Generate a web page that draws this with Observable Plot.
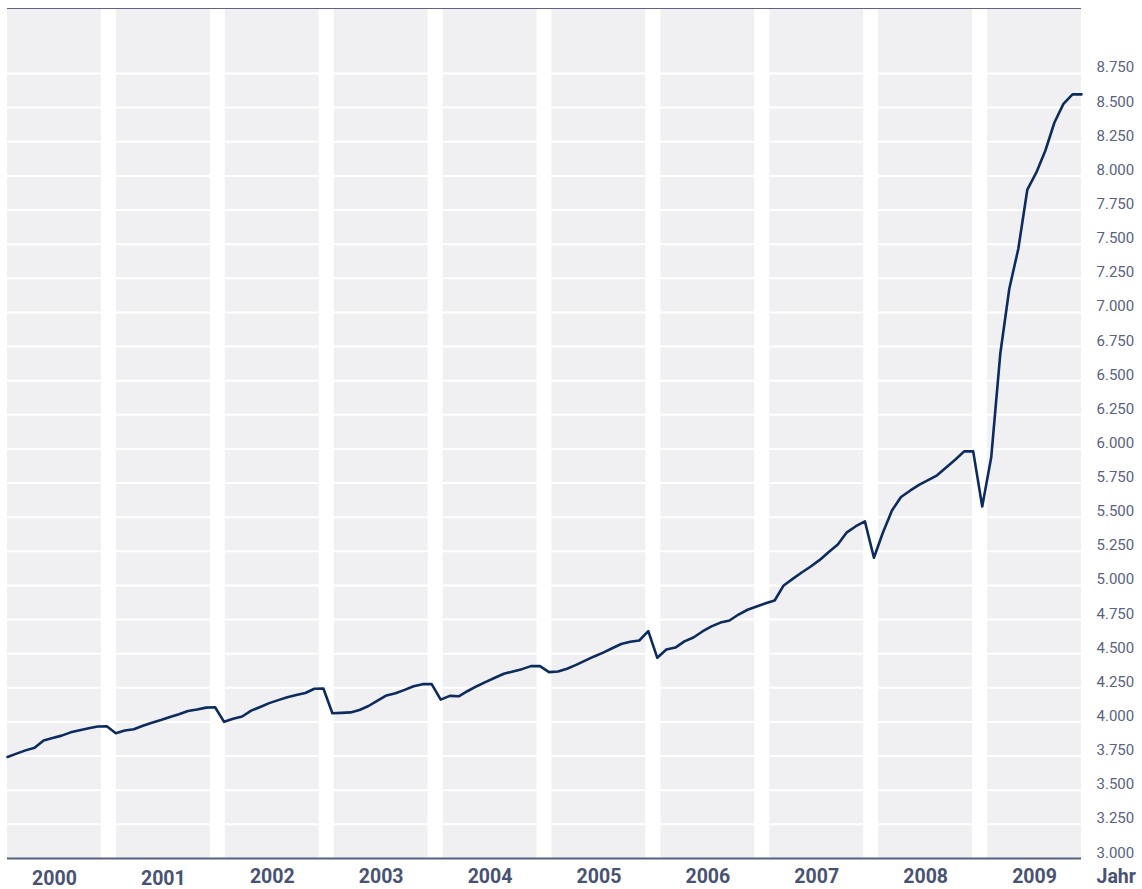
<!DOCTYPE html>
<html>
<head>
<meta charset="utf-8">
<script src="https://cdn.jsdelivr.net/npm/d3@7"></script>
<script src="https://cdn.jsdelivr.net/npm/@observablehq/plot@0.6"></script>
<style>
html, body { margin: 0; padding: 0; background: #ffffff; }
#chart svg { display: block; }
</style>
</head>
<body>
<div id="chart"></div>
<script>
// ---- Data (monthly values) ----
const years = [2000, 2001, 2002, 2003, 2004, 2005, 2006, 2007, 2008, 2009];
const values2000 = [3744, 3768, 3792, 3812, 3865, 3882, 3900, 3924, 3939, 3954, 3967, 3969];
const values2001 = [3917, 3937, 3947, 3972, 3994, 4014, 4036, 4056, 4080, 4091, 4105, 4108];
const values2002 = [4001, 4023, 4040, 4083, 4110, 4138, 4160, 4181, 4197, 4212, 4243, 4245];
const values2003 = [4064, 4067, 4070, 4088, 4117, 4157, 4194, 4210, 4235, 4262, 4277, 4277];
const values2004 = [4164, 4191, 4188, 4227, 4262, 4294, 4324, 4353, 4370, 4387, 4409, 4409];
const values2005 = [4365, 4370, 4390, 4418, 4449, 4480, 4508, 4540, 4571, 4587, 4597, 4665];
const values2006 = [4470, 4531, 4545, 4590, 4619, 4663, 4700, 4728, 4743, 4787, 4822, 4846];
const values2007 = [4869, 4890, 5000, 5048, 5095, 5139, 5187, 5245, 5300, 5389, 5434, 5469];
const values2008 = [5203, 5388, 5549, 5648, 5694, 5736, 5772, 5807, 5864, 5921, 5982, 5982];
const values2009 = [5578, 5940, 6697, 7173, 7466, 7900, 8025, 8186, 8391, 8527, 8597, 8597];
const yTickValues = [3000, 3250, 3500, 3750, 4000, 4250, 4500, 4750, 5000, 5250, 5500, 5750,
                     6000, 6250, 6500, 6750, 7000, 7250, 7500, 7750, 8000, 8250, 8500, 8750];
const axisLabel = "Jahr";

// ---- Derived tables ----
const series = [values2000, values2001, values2002, values2003, values2004,
                values2005, values2006, values2007, values2008, values2009];
const data = series.flatMap((vals, yi) => vals.map((v, m) => ({k: yi * 12 + m, value: v})));
const lastK = data.length - 1;

// year bands: band:gap ratio 94:15 across the whole x extent
const period = 109, bandW = 94;
const unit = lastK / (years.length * period - (period - bandW));
const bands = years.map((year, i) => ({
  year,
  x1: period * i * unit,
  x2: (period * i + bandW) * unit
}));
bands.forEach(b => b.xc = (b.x1 + b.x2) / 2);

const de = d3.formatLocale({decimal: ",", thousands: ".", grouping: [3], currency: ["", " €"]});
const fmt = de.format(",");

const yMin = 3000, yMax = 9226;
const textColor = "#59627f";
const yearColor = "#485274";
const yearFont = "'Liberation Sans Narrow', 'Roboto', sans-serif";

const chart = Plot.plot({
  width: 1142,
  height: 889,
  marginLeft: 7,
  marginRight: 61,
  marginTop: 8,
  marginBottom: 31,
  style: {fontFamily: "Roboto, 'Liberation Sans', sans-serif", background: "#ffffff", overflow: "visible"},
  x: {domain: [0, lastK], axis: null},
  y: {domain: [yMin, yMax], axis: null},
  marks: [
    Plot.rect(bands, {x1: "x1", x2: "x2", y1: yMin, y2: yMax, fill: "#f0f0f3"}),
    Plot.ruleY(yTickValues.filter(d => d > yMin), {stroke: "#ffffff", strokeWidth: 2}),
    Plot.ruleY([yMax], {stroke: "#5a6484", strokeWidth: 1}),
    Plot.ruleY([yMin], {stroke: "#56607e", strokeWidth: 2}),
    Plot.line(data, {x: "k", y: "value", stroke: "#0c2b5e", strokeWidth: 2.6, strokeLinejoin: "round"}),
    Plot.text(yTickValues, {
      x: lastK, y: d => d, text: d => fmt(d), dx: 15, dy: -1,
      textAnchor: "start", lineAnchor: "bottom", fill: textColor, fontSize: 15
    }),
    Plot.text(bands.slice(0, 2), {
      x: "xc", text: d => String(d.year), frameAnchor: "bottom", dy: 26, lineAnchor: "bottom",
      fill: yearColor, fontSize: 19.5, fontWeight: "bold", fontFamily: yearFont
    }),
    Plot.text(bands.slice(2), {
      x: "xc", text: d => String(d.year), frameAnchor: "bottom", dy: 24, lineAnchor: "bottom",
      fill: yearColor, fontSize: 19.5, fontWeight: "bold", fontFamily: yearFont
    }),
    Plot.text([axisLabel], {
      x: lastK, text: d => d, frameAnchor: "bottom", dx: 15, dy: 24, lineAnchor: "bottom",
      textAnchor: "start", fill: yearColor, fontSize: 19.5, fontWeight: "bold", fontFamily: yearFont
    })
  ]
});
document.getElementById("chart").appendChild(chart);
</script>
</body>
</html>
